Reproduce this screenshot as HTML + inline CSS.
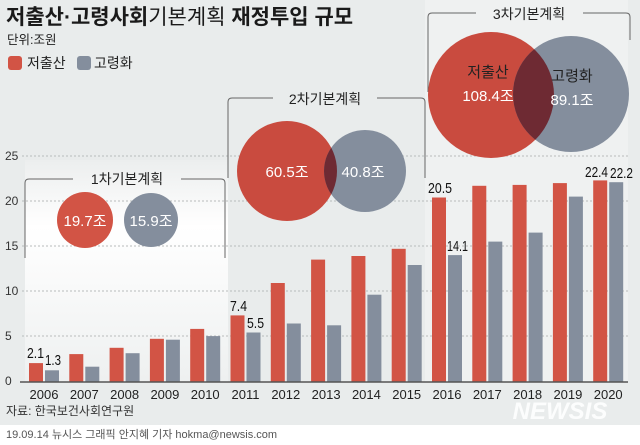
<!DOCTYPE html>
<html><head><meta charset="utf-8"><style>
body{margin:0;width:640px;height:445px;overflow:hidden;background:#fff}
svg{display:block;font-family:"Liberation Sans","Noto Sans CJK KR",sans-serif}
</style></head><body>
<svg width="640" height="445" viewBox="0 0 640 445">
<defs>
<linearGradient id="g1" x1="0" y1="0" x2="0" y2="1"><stop offset="0" stop-color="#eceeee"/><stop offset="0.3" stop-color="#ffffff"/><stop offset="1" stop-color="#eef0f0"/></linearGradient>
</defs>
<rect x="0" y="0" width="640" height="425" fill="#e9ecec"/>
<rect x="25" y="160" width="203" height="222" fill="url(#g1)"/>
<rect x="425" y="0" width="203" height="382" fill="#eff1f1"/>
<text x="6" y="24" font-size="21" font-weight="bold" fill="#1a1a1a">저출산·고령사회<tspan font-weight="normal">기본계획</tspan> 재정투입 규모</text>
<text x="7" y="44" font-size="12.5" fill="#222">단위:조원</text>
<rect x="8" y="56" width="14" height="14" rx="3" fill="#d25445"/>
<text x="27" y="68" font-size="14" fill="#222">저출산</text>
<rect x="77" y="56" width="14" height="14" rx="3" fill="#848e9d"/>
<text x="94" y="68" font-size="14" fill="#222">고령화</text>
<g stroke="#b8bcbc" stroke-dasharray="2,2" stroke-width="1">
<line x1="22" y1="156" x2="628" y2="156"/><line x1="22" y1="201" x2="628" y2="201"/>
<line x1="22" y1="246" x2="628" y2="246"/><line x1="22" y1="291" x2="628" y2="291"/>
<line x1="22" y1="336" x2="628" y2="336"/></g>
<g font-size="12" fill="#333">
<text x="5" y="160">25</text><text x="5" y="205">20</text><text x="5" y="250">15</text><text x="5" y="295">10</text><text x="5" y="340">5</text><text x="5" y="385">0</text></g>
<g fill="#d25445">
<rect x="29" y="363.1" width="14" height="18.9"/>
<rect x="69.3" y="354.1" width="14" height="27.9"/>
<rect x="109.6" y="347.8" width="14" height="34.2"/>
<rect x="149.9" y="338.8" width="14" height="43.2"/>
<rect x="190.2" y="328.9" width="14" height="53.1"/>
<rect x="230.5" y="315.4" width="14" height="66.6"/>
<rect x="270.8" y="283" width="14" height="99"/>
<rect x="311.1" y="259.6" width="14" height="122.4"/>
<rect x="351.4" y="256" width="14" height="126"/>
<rect x="391.7" y="248.8" width="14" height="133.2"/>
<rect x="432" y="197.5" width="14" height="184.5"/>
<rect x="472.3" y="185.8" width="14" height="196.2"/>
<rect x="512.6" y="184.9" width="14" height="197.1"/>
<rect x="552.9" y="183.1" width="14" height="198.9"/>
<rect x="593.2" y="180.4" width="14" height="201.6"/>
</g>
<g fill="#848e9d">
<rect x="45" y="370.3" width="14" height="11.7"/>
<rect x="85.3" y="366.7" width="14" height="15.3"/>
<rect x="125.6" y="353.2" width="14" height="28.8"/>
<rect x="165.9" y="339.7" width="14" height="42.3"/>
<rect x="206.2" y="336.1" width="14" height="45.9"/>
<rect x="246.5" y="332.5" width="14" height="49.5"/>
<rect x="286.8" y="323.5" width="14" height="58.5"/>
<rect x="327.1" y="325.3" width="14" height="56.7"/>
<rect x="367.4" y="294.7" width="14" height="87.3"/>
<rect x="407.7" y="265" width="14" height="117"/>
<rect x="448" y="255.1" width="14" height="126.9"/>
<rect x="488.3" y="241.6" width="14" height="140.4"/>
<rect x="528.6" y="232.6" width="14" height="149.4"/>
<rect x="568.9" y="196.6" width="14" height="185.4"/>
<rect x="609.2" y="182.2" width="14" height="199.8"/>
</g>
<line x1="20" y1="382" x2="628" y2="382" stroke="#555" stroke-width="1.5"/>
<g fill="none" stroke="#666" stroke-width="1">
<path d="M25 258 V183 Q25 179 29 179 H73 M181 179 H221 Q225 179 225 183 V258"/>
<path d="M228 178 V102 Q228 98 232 98 H273 M377 98 H421 Q425 98 425 102 V178"/>
<path d="M428 92 V17 Q428 13 432 13 H476 M583 13 H626 Q630 13 630 17 V40"/>
</g>
<g font-size="14" fill="#222" text-anchor="middle">
<text x="127" y="184">1차기본계획</text><text x="325" y="104">2차기본계획</text><text x="529" y="19">3차기본계획</text></g>
<circle cx="85" cy="220" r="28" fill="#d25445"/><circle cx="151" cy="220" r="27" fill="#848e9d"/>
<circle cx="287" cy="171" r="50" fill="#c94b3f"/><circle cx="365" cy="171" r="41" fill="#848e9d"/>
<circle cx="491" cy="95" r="63" fill="#c94b3f"/><circle cx="571" cy="94" r="58" fill="#848e9d"/>
<clipPath id="c2"><circle cx="287" cy="171" r="50"/></clipPath>
<clipPath id="c3"><circle cx="491" cy="95" r="63"/></clipPath>
<circle cx="365" cy="171" r="41" fill="#6e2a33" clip-path="url(#c2)"/>
<circle cx="571" cy="94" r="58" fill="#6e2a33" clip-path="url(#c3)"/>
<g fill="#fff" font-size="15" text-anchor="middle">
<text x="85" y="226">19.7조</text><text x="151" y="226">15.9조</text>
<text x="287" y="177">60.5조</text><text x="363" y="177">40.8조</text>
<text x="488" y="101">108.4조</text><text x="572" y="105">89.1조</text></g>
<g fill="#222" font-size="15" text-anchor="middle"><text x="488" y="77">저출산</text><text x="572" y="81">고령화</text></g>
<g font-size="15" fill="#111" lengthAdjust="spacingAndGlyphs">
<text x="27" y="358" textLength="17" lengthAdjust="spacingAndGlyphs">2.1</text>
<text x="45" y="365" textLength="16" lengthAdjust="spacingAndGlyphs">1.3</text>
<text x="230" y="311" textLength="17" lengthAdjust="spacingAndGlyphs">7.4</text>
<text x="247" y="328" textLength="17" lengthAdjust="spacingAndGlyphs">5.5</text>
<text x="428" y="193" textLength="24" lengthAdjust="spacingAndGlyphs">20.5</text>
<text x="447" y="251" textLength="21" lengthAdjust="spacingAndGlyphs">14.1</text>
<text x="585" y="177" textLength="23" lengthAdjust="spacingAndGlyphs">22.4</text>
<text x="610" y="178" textLength="23" lengthAdjust="spacingAndGlyphs">22.2</text></g>
<g font-size="13" fill="#222" text-anchor="middle">
<text x="44" y="399">2006</text><text x="84.3" y="399">2007</text><text x="124.6" y="399">2008</text>
<text x="164.9" y="399">2009</text><text x="205.2" y="399">2010</text><text x="245.5" y="399">2011</text>
<text x="285.8" y="399">2012</text><text x="326.1" y="399">2013</text><text x="366.4" y="399">2014</text>
<text x="406.7" y="399">2015</text><text x="447" y="399">2016</text><text x="487.3" y="399">2017</text>
<text x="527.6" y="399">2018</text><text x="567.9" y="399">2019</text><text x="608.2" y="399">2020</text>
</g>
<text x="6" y="415" font-size="12" fill="#333">자료: 한국보건사회연구원</text>
<text x="560" y="419" font-size="24" font-weight="bold" font-style="italic" fill="#ffffff" text-anchor="middle" opacity="0.9">NEWSIS</text>
<text x="6" y="438" font-size="11" fill="#555">19.09.14 뉴시스 그래픽 안지혜 기자 hokma@newsis.com</text>
</svg>
</body></html>
